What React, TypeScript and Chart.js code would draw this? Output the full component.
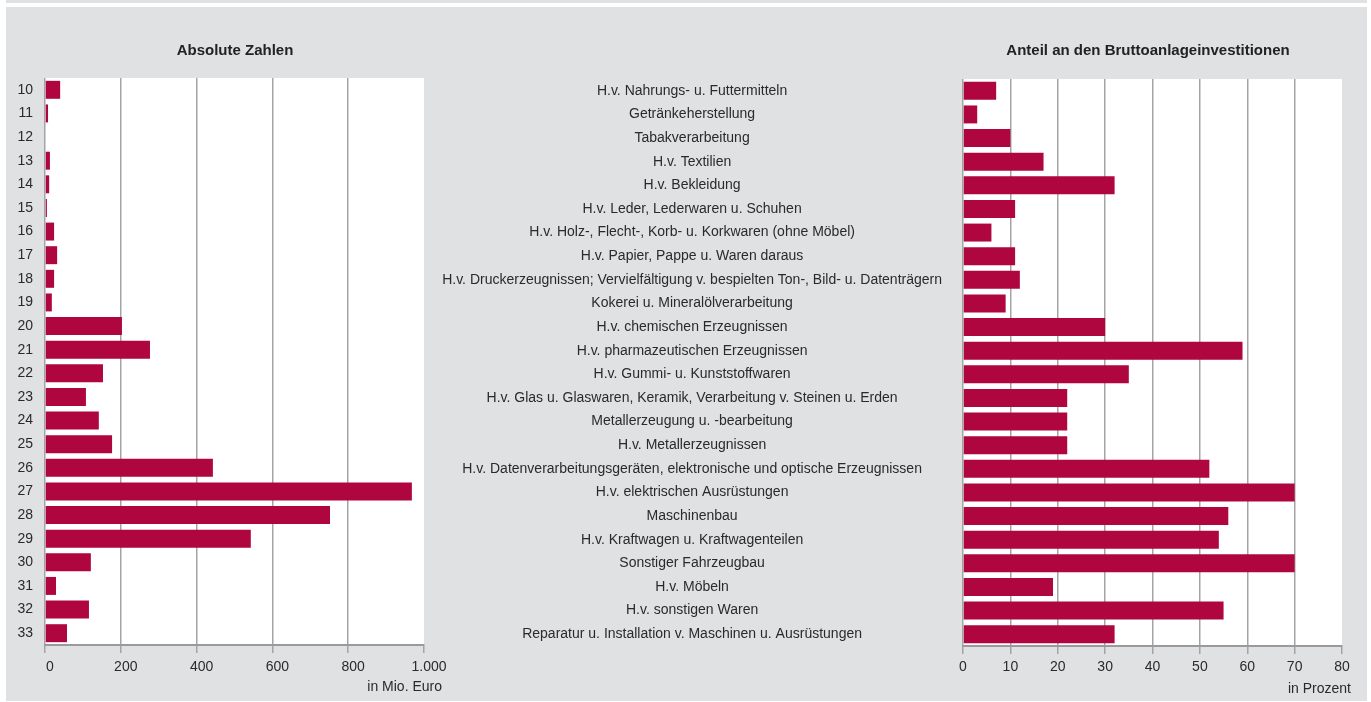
import React, { useEffect, useRef } from 'react';
import { Chart, registerables } from 'chart.js';

Chart.register(...registerables);

// ---- Data ----
const codes = ['10', '11', '12', '13', '14', '15', '16', '17', '18', '19', '20', '21', '22', '23', '24', '25', '26', '27', '28', '29', '30', '31', '32', '33'];

const branchNames = [
  'H.v. Nahrungs- u. Futtermitteln',
  'Getränkeherstellung',
  'Tabakverarbeitung',
  'H.v. Textilien',
  'H.v. Bekleidung',
  'H.v. Leder, Lederwaren u. Schuhen',
  'H.v. Holz-, Flecht-, Korb- u. Korkwaren (ohne Möbel)',
  'H.v. Papier, Pappe u. Waren daraus',
  'H.v. Druckerzeugnissen; Vervielfältigung v. bespielten Ton-, Bild- u. Datenträgern',
  'Kokerei u. Mineralölverarbeitung',
  'H.v. chemischen Erzeugnissen',
  'H.v. pharmazeutischen Erzeugnissen',
  'H.v. Gummi- u. Kunststoffwaren',
  'H.v. Glas u. Glaswaren, Keramik, Verarbeitung v. Steinen u. Erden',
  'Metallerzeugung u. -bearbeitung',
  'H.v. Metallerzeugnissen',
  'H.v. Datenverarbeitungsgeräten, elektronische und optische Erzeugnissen',
  'H.v. elektrischen Ausrüstungen',
  'Maschinenbau',
  'H.v. Kraftwagen u. Kraftwagenteilen',
  'Sonstiger Fahrzeugbau',
  'H.v. Möbeln',
  'H.v. sonstigen Waren',
  'Reparatur u. Installation v. Maschinen u. Ausrüstungen',
];

// Absolute Zahlen, in Mio. Euro
const absoluteValues = [40, 8, 0, 13, 11, 5, 24, 32, 24, 18, 203, 277, 153, 108, 142, 177, 443, 968, 752, 543, 121, 29, 116, 58];

// Anteil an den Bruttoanlageinvestitionen, in Prozent
const shareValues = [7, 3, 10, 17, 32, 11, 6, 11, 12, 9, 30, 59, 35, 22, 22, 22, 52, 70, 56, 54, 70, 19, 55, 32];

const absoluteTicks = [0, 200, 400, 600, 800, 1000];
const absoluteTickLabels = ['0', '200', '400', '600', '800', '1.000'];
const shareTicks = [0, 10, 20, 30, 40, 50, 60, 70, 80];
const shareTickLabels = ['0', '10', '20', '30', '40', '50', '60', '70', '80'];

const titleAbsolute = 'Absolute Zahlen';
const titleShare = 'Anteil an den Bruttoanlageinvestitionen';
const unitAbsolute = 'in Mio. Euro';
const unitShare = 'in Prozent';

// ---- Styles ----
const FONT = "'Liberation Sans', Arial, Helvetica, sans-serif";
const BAR_COLOR = 'rgb(175, 6, 64)';
const PANEL = '#e0e1e3';
const GRID = '#a4a4a4';
const AXIS = '#9a9a9a';
const TEXT = '#2a2a2a';

const whiteArea = {
  id: 'whiteArea',
  beforeDraw(chart: any) {
    const { ctx, chartArea: a } = chart;
    ctx.save();
    ctx.fillStyle = '#ffffff';
    ctx.fillRect(a.left, a.top, a.right - a.left, a.bottom - a.top);
    ctx.restore();
  },
};

function makeChart(
  canvas: HTMLCanvasElement,
  labels: string[],
  values: number[],
  max: number,
  ticks: number[],
  tickLabels: string[],
  o: {
    padTop: number;
    padRight: number;
    yWidth: number;
    xHeight: number;
    yPadding: number;
    yCross: string;
    xPadding: number;
    labelOffset: number;
  }
) {
  const last = ticks.length - 1;
  return new Chart(canvas, {
    type: 'bar',
    data: {
      labels,
      datasets: [
        {
          data: values,
          backgroundColor: BAR_COLOR,
          borderWidth: 0,
          barPercentage: 0.76,
          categoryPercentage: 1,
        },
      ],
    },
    options: {
      indexAxis: 'y',
      responsive: false,
      animation: false,
      devicePixelRatio: 1,
      layout: { padding: { top: o.padTop, right: o.padRight, left: 0, bottom: 0 } },
      plugins: {
        legend: { display: false },
        tooltip: { enabled: false },
        title: { display: false },
      },
      scales: {
        x: {
          type: 'linear',
          position: 'bottom',
          min: 0,
          max,
          afterBuildTicks: (s: any) => {
            s.ticks = ticks.map((v) => ({ value: v }));
          },
          afterFit: (s: any) => {
            s.height = o.xHeight;
          },
          ticks: {
            autoSkip: false,
            maxRotation: 0,
            padding: o.xPadding,
            labelOffset: o.labelOffset,
            color: TEXT,
            font: { family: FONT, size: 14 },
            callback: (_v: any, i: number) => tickLabels[i],
          },
          grid: {
            color: (c: any) => (c.index === last ? 'rgba(0,0,0,0)' : GRID),
            tickColor: GRID,
            lineWidth: 1.5,
            tickLength: 8,
            drawTicks: true,
          },
          border: { display: true, color: AXIS, width: 2 },
        },
        y: {
          type: 'category',
          afterFit: (s: any) => {
            s.width = o.yWidth;
          },
          ticks: {
            autoSkip: false,
            padding: o.yPadding,
            crossAlign: o.yCross as any,
            color: TEXT,
            font: { family: FONT, size: 14 },
          },
          grid: { display: false, drawTicks: false },
          border: { display: false },
        },
      },
    },
    plugins: [whiteArea],
  } as any);
}

export default function App() {
  const leftRef = useRef<HTMLCanvasElement>(null);
  const rightRef = useRef<HTMLCanvasElement>(null);

  useEffect(() => {
    const left = makeChart(leftRef.current!, codes, absoluteValues, 1000, absoluteTicks, absoluteTickLabels, {
      padTop: 71,
      padRight: 32,
      yWidth: 39,
      xHeight: 56,
      yPadding: 12,
      yCross: 'near',
      xPadding: 6,
      labelOffset: 5,
    });
    const right = makeChart(rightRef.current!, branchNames, shareValues, 80, shareTicks, shareTickLabels, {
      padTop: 72,
      padRight: 29,
      yWidth: 533,
      xHeight: 55,
      yPadding: 21,
      yCross: 'center',
      xPadding: 5,
      labelOffset: 0,
    });
    return () => {
      left.destroy();
      right.destroy();
    };
  }, []);

  const titleStyle: React.CSSProperties = {
    position: 'absolute',
    top: 41,
    fontFamily: FONT,
    fontWeight: 'bold',
    fontSize: 15,
    lineHeight: '18px',
    color: '#222',
    textAlign: 'center',
    whiteSpace: 'nowrap',
  };
  const unitStyle: React.CSSProperties = {
    position: 'absolute',
    fontFamily: FONT,
    fontSize: 14,
    lineHeight: '16px',
    color: TEXT,
    textAlign: 'right',
    whiteSpace: 'nowrap',
  };

  return (
    <div style={{ position: 'fixed', left: 0, top: 0, width: 1371, height: 702, background: '#fff', overflow: 'hidden' }}>
      <div style={{ position: 'absolute', left: 6, top: 0, width: 1361, height: 3, background: PANEL }} />
      <div style={{ position: 'absolute', left: 6, top: 7, width: 1361, height: 694, background: PANEL }} />
      <canvas ref={leftRef} width={450} height={694} style={{ position: 'absolute', left: 6, top: 7, width: 450, height: 694 }} />
      <canvas ref={rightRef} width={941} height={694} style={{ position: 'absolute', left: 430, top: 7, width: 941, height: 694 }} />
      <div style={{ ...titleStyle, left: 135, width: 200 }}>{titleAbsolute}</div>
      <div style={{ ...titleStyle, left: 948, width: 400 }}>{titleShare}</div>
      <div style={{ ...unitStyle, left: 300, width: 142, top: 678 }}>{unitAbsolute}</div>
      <div style={{ ...unitStyle, left: 1200, width: 151, top: 680 }}>{unitShare}</div>
    </div>
  );
}
